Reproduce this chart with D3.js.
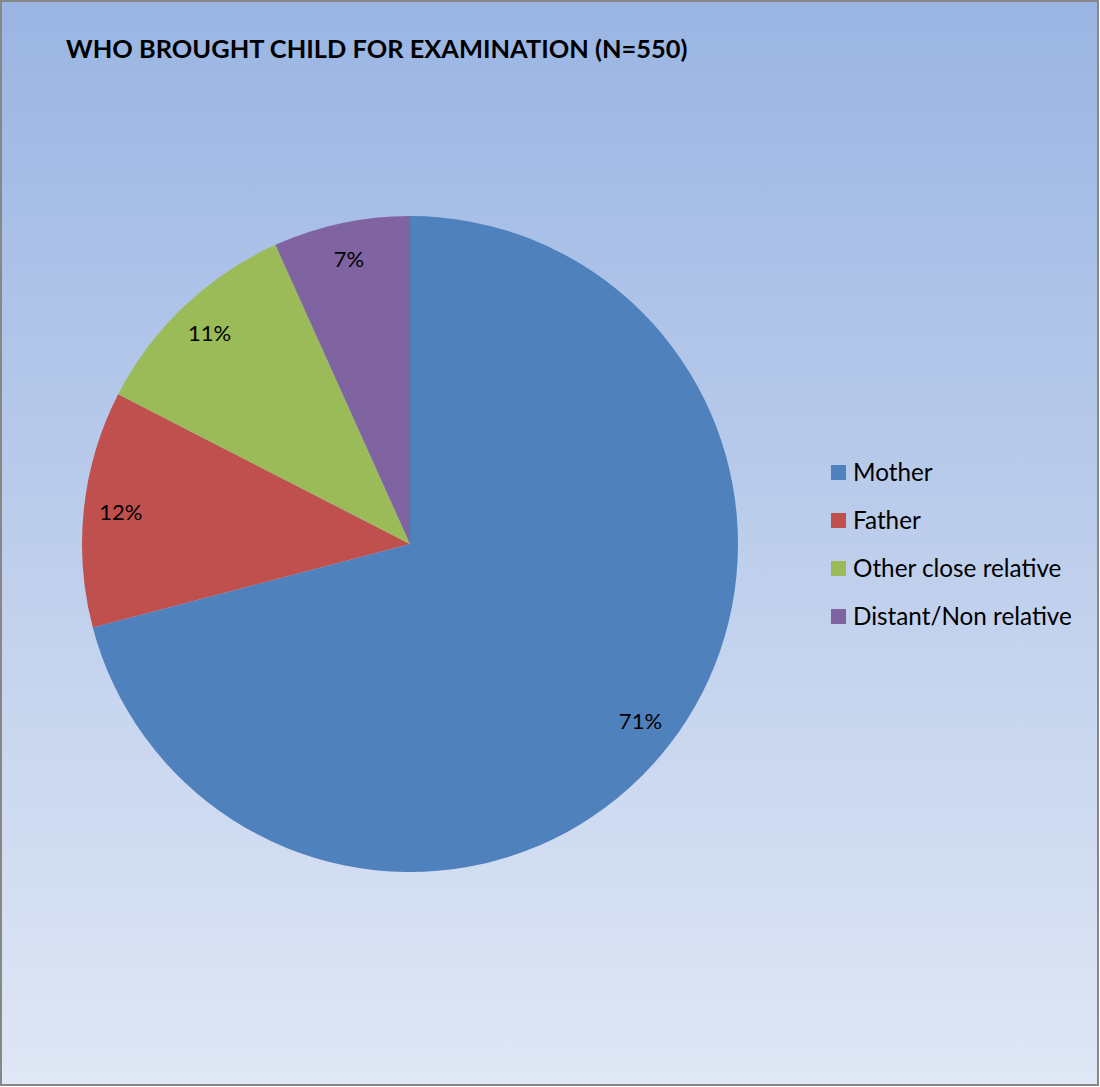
<!DOCTYPE html>
<html>
<head>
<meta charset="utf-8">
<script src="https://cdn.jsdelivr.net/npm/d3@7"></script>
<style>
  body { margin: 0; background: #fff; }
  svg text { font-family: Lato, "Open Sans", sans-serif; fill: #000; }
</style>
</head>
<body>
<div id="chart"></div>
<script>
var W = 1100, H = 1087;

// data: counts of the 550 children
var categories = ["Mother", "Father", "Other close relative", "Distant/Non relative"];
var counts = [390, 64, 59, 37];
var total = 550;
var colors = ["#4f81bd", "#c0504d", "#9bbb59", "#8064a2"];

var data = categories.map(function(c, i) {
	return { name: c, value: counts[i], color: colors[i] };
});

var svg = d3.select('#chart')
	.append('svg')
		.attr('width', W)
		.attr('height', H);

var defs = svg.append('defs');
var grad = defs.append('linearGradient')
	.attr('id', 'bg')
	.attr('x1', 0).attr('y1', 0)
	.attr('x2', 0).attr('y2', 1);
grad.append('stop').attr('offset', '0%').attr('stop-color', '#9ab5e3');
grad.append('stop').attr('offset', '100%').attr('stop-color', '#e0e7f5');

svg.append('rect')
	.attr('x', 1).attr('y', 1)
	.attr('width', W - 3).attr('height', H - 3)
	.attr('fill', 'url(#bg)')
	.attr('stroke', '#878787')
	.attr('stroke-width', 2);

// title
var title = svg.append('text')
	.attr('x', 66)
	.attr('y', 58)
	.style('font-weight', 'bold')
	.style('font-size', '25px')
	.text('WHO BROUGHT CHILD FOR EXAMINATION (N=550)');
fitWidth(title, 622);

// pie
var cx = 410, cy = 544, R = 328;
var pie = d3.pie().sort(null).value(function(d) { return d.value; });
var arc = d3.arc().innerRadius(0).outerRadius(R);
var labelArc = d3.arc().innerRadius(291).outerRadius(291);

var g = svg.append('g').attr('transform', 'translate(' + cx + ',' + cy + ')');

g.selectAll('path')
	.data(pie(data))
	.enter()
	.append('path')
		.attr('d', arc)
		.attr('fill', function(d) { return d.data.color; });

g.selectAll('text.lbl')
	.data(pie(data))
	.enter()
	.append('text')
		.attr('class', 'lbl')
		.attr('transform', function(d) { return 'translate(' + labelArc.centroid(d) + ')'; })
		.attr('text-anchor', 'middle')
		.attr('dy', '0.35em')
		.style('font-size', '22px')
		.text(function(d) { return Math.round(d.data.value / total * 100) + '%'; });

// legend
var legend = svg.selectAll('g.leg')
	.data(data)
	.enter()
	.append('g')
		.attr('class', 'leg')
		.attr('transform', function(d, i) { return 'translate(831,' + (472 + i * 48) + ')'; });

legend.append('rect')
	.attr('x', 0).attr('y', -7)
	.attr('width', 15).attr('height', 15)
	.attr('fill', function(d) { return d.color; });

legend.append('text')
	.attr('x', 22)
	.attr('dy', '0.35em')
	.style('font-size', '22px')
	.text(function(d) { return d.name; });

fitWidth(legend.filter(function(d, i) { return i == 3; }).select('text'), 219, legend.selectAll('text'));

function fitWidth(sel, target, all) {
	var w = sel.node().getComputedTextLength();
	var fs = parseFloat(sel.style('font-size'));
	var nfs = fs * target / w;
	(all || sel).style('font-size', nfs + 'px');
}
</script>
</body>
</html>
